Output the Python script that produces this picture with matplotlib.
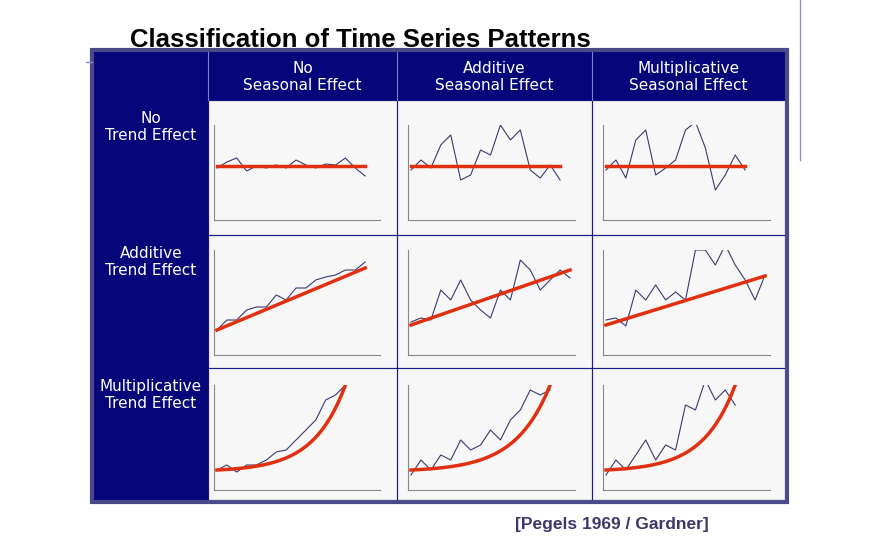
import numpy as np
import matplotlib.pyplot as plt
from matplotlib.patches import Rectangle

W, H = 875, 544
col_labels = ["No\nSeasonal Effect", "Additive\nSeasonal Effect", "Multiplicative\nSeasonal Effect"]
row_labels = ["No\nTrend Effect", "Additive\nTrend Effect", "Multiplicative\nTrend Effect"]

series = [
    [[52, 58, 62, 49, 54, 52, 55, 52, 60, 55, 52, 56, 55, 62, 52, 44],
     [50, 60, 52, 75, 85, 40, 45, 70, 65, 95, 80, 90, 50, 42, 55, 40],
     [50, 60, 42, 80, 90, 45, 52, 60, 90, 98, 72, 30, 45, 65, 50]],
    [[25, 35, 35, 45, 48, 48, 60, 55, 67, 67, 75, 78, 80, 85, 85, 93],
     [33, 37, 35, 65, 55, 75, 55, 45, 37, 65, 55, 95, 85, 65, 75, 85, 77],
     [35, 37, 29, 65, 55, 70, 55, 63, 55, 105, 105, 90, 110, 90, 75, 55, 80]],
    [[20, 25, 18, 25, 25, 30, 38, 40, 50, 60, 70, 90, 95, 105],
     [15, 30, 20, 35, 30, 50, 40, 45, 60, 50, 70, 80, 100, 95, 100],
     [15, 30, 20, 35, 50, 30, 45, 40, 85, 80, 110, 90, 100, 85]],
]
trend_ends = [
    [(54, 54), (54, 54), (54, 54)],
    [(25, 87), (30, 85), (30, 79)],
    [(20, 105), (20, 105), (20, 105)],
]
trend_kind = ["flat", "linear", "exp"]

fig = plt.figure(figsize=(W / 100, H / 100), dpi=100)
bg = fig.add_axes([0, 0, 1, 1])
bg.set_xlim(0, W); bg.set_ylim(H, 0); bg.axis("off")

navy = "#06067a"
bg.add_patch(Rectangle((92, 50), 695, 452, facecolor=navy, edgecolor="#4a4a8a", lw=3))
col_x = [208, 397, 592, 785]
row_y = [100, 235, 368, 500]
for i in range(3):
    for j in range(3):
        bg.add_patch(Rectangle((col_x[j] + 1, row_y[i] + 1), col_x[j + 1] - col_x[j] - 2,
                               row_y[i + 1] - row_y[i] - 2, facecolor="#f7f7f7", edgecolor="#e0e0ea", lw=0.8))
for j in range(3):
    bg.plot([col_x[j], col_x[j]], [52, 100], color="#8080c0", lw=0.8)
    bg.text((col_x[j] + col_x[j + 1]) / 2, 77, col_labels[j], color="white", fontsize=11,
            ha="center", va="center", linespacing=1.1)
for i in range(3):
    bg.text(151, row_y[i] + 27, row_labels[i], color="white", fontsize=11,
            ha="center", va="center", linespacing=1.1)

bg.text(130, 40, "Classification of Time Series Patterns", fontsize=18.5, fontweight="bold",
        ha="left", va="center", family="Liberation Sans")
bg.text(515, 525, "[Pegels 1969 / Gardner]", fontsize=12.5, fontweight="bold", color="#3a3a6a",
        ha="left", va="center", family="Liberation Sans")
bg.plot([800, 800], [0, 160], color="#9090c8", lw=1)
bg.plot([86, 92], [62, 62], color="#9090c8", lw=1)

ax_x = [(214, 380), (408, 575), (603, 770)]
ax_y = [(125, 220), (250, 355), (385, 490)]
for i in range(3):
    for j in range(3):
        x0, x1 = ax_x[j]; y0, y1 = ax_y[i]
        ax = fig.add_axes([x0 / W, 1 - y1 / H, (x1 - x0) / W, (y1 - y0) / H])
        ax.patch.set_alpha(0)
        v = series[i][j]
        t = np.arange(len(v))
        ax.plot(t, v, color="#3a3a70", lw=0.8)
        a, b = trend_ends[i][j]
        tt = np.linspace(0, len(v) - 1, 100)
        s = tt / (len(v) - 1)
        if trend_kind[i] == "exp":
            yy = a + (b - a) * (np.exp(4 * s) - 1) / (np.exp(4) - 1)
        else:
            yy = a + (b - a) * s
        ax.plot(tt, yy, color="#e03010", lw=2.5)
        ax.set_xlim(-0.3, 16.5)
        ax.set_ylim(0, y1 - y0)
        for sp in ["top", "right"]:
            ax.spines[sp].set_visible(False)
        for sp in ["left", "bottom"]:
            ax.spines[sp].set_color("#888888")
        ax.set_xticks([]); ax.set_yticks([])

fig.savefig("out.png", dpi=100)
